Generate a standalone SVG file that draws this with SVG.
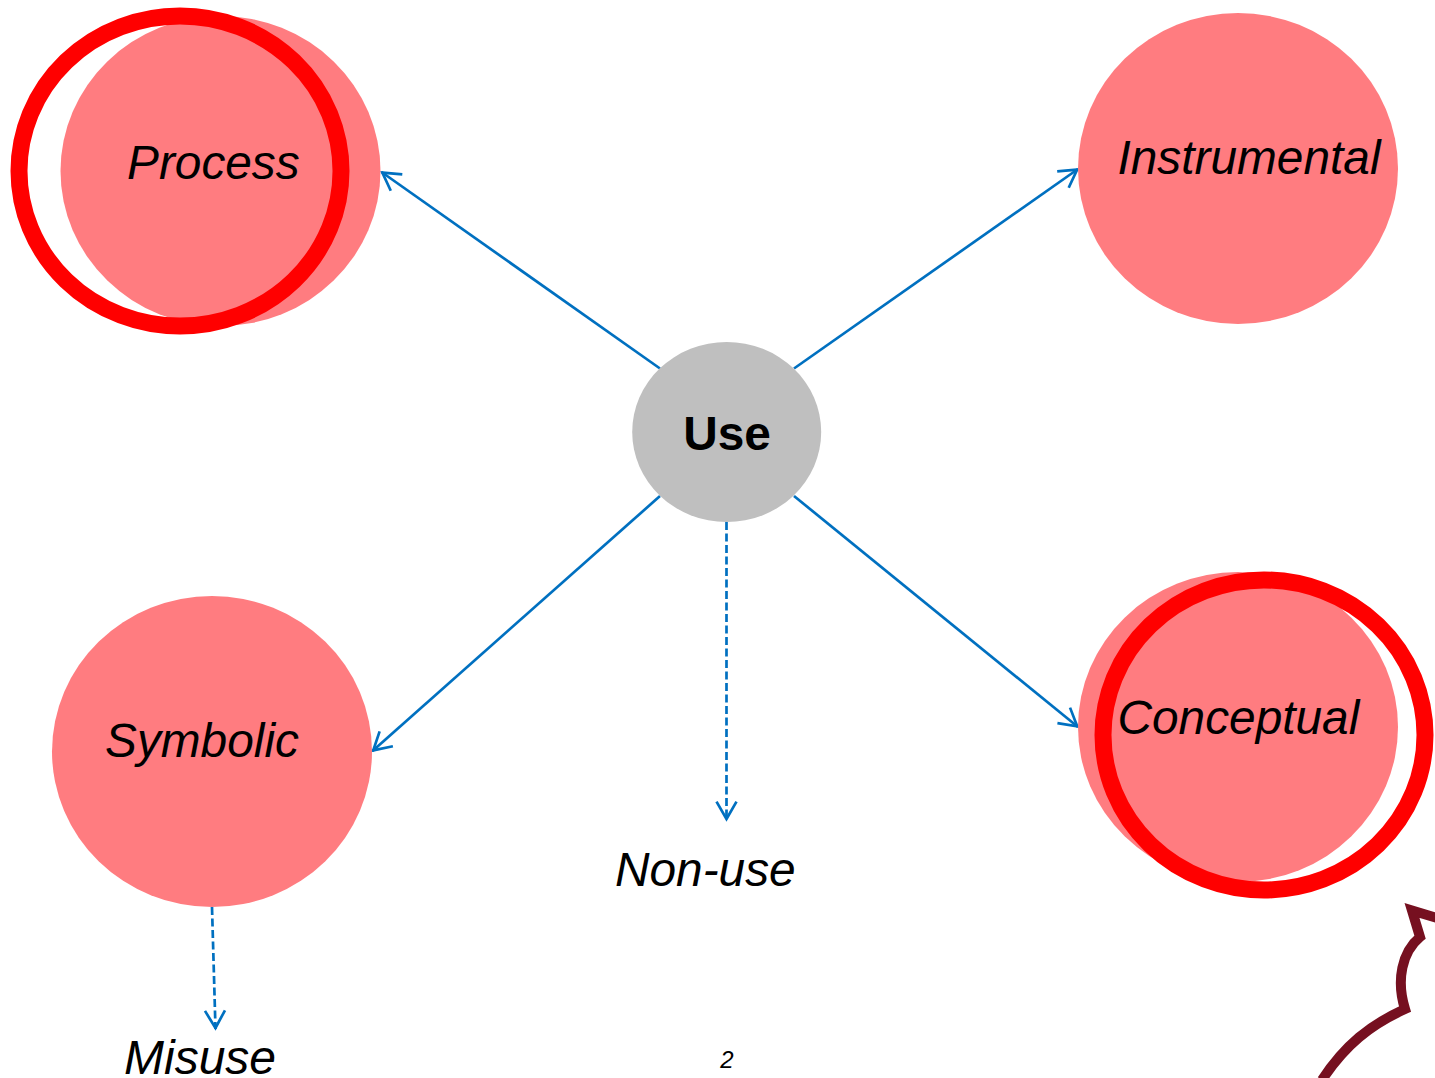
<svg xmlns="http://www.w3.org/2000/svg" width="1435" height="1078" viewBox="0 0 1435 1078">
<defs><marker id="a" markerUnits="userSpaceOnUse" markerWidth="26" markerHeight="26" refX="21" refY="13" orient="auto"><path d="M2.600 3 L20 13 L2.600 23" fill="none" stroke="#0070c0" stroke-width="2.700"/></marker></defs>
<style>
.p{fill:#ff7c80}
.r{fill:none;stroke:#ff0000;stroke-width:17}
.t{font-family:"Liberation Sans",Arial,sans-serif;font-style:italic;font-size:47.800px;fill:#000}
.c{stroke:#0070c0;stroke-width:2.700;fill:none;marker-end:url(#a)}
.d{stroke-dasharray:8 3.500}
</style>
<rect width="1435" height="1078" fill="#fff"/>
<g id="connectors">
<line class="c" x1="660" y1="368.500" x2="381.500" y2="172"/>
<line class="c" x1="794" y1="368.500" x2="1078" y2="169"/>
<line class="c" x1="660" y1="496" x2="372.500" y2="751"/>
<line class="c" x1="794" y1="496" x2="1078" y2="727"/>
<line class="c d" x1="726.500" y1="522" x2="726.500" y2="820"/>
<line class="c d" x1="212" y1="907" x2="215.500" y2="1029"/>
</g>
<g id="process"><ellipse class="p" cx="220.500" cy="171" rx="160" ry="155"/><ellipse class="r" cx="180" cy="171" rx="161" ry="155"/><text class="t" x="127" y="179">Process</text></g>
<g id="instrumental"><ellipse class="p" cx="1238" cy="168.500" rx="160" ry="155.500"/><text class="t" x="1117.500" y="174">Instrumental</text></g>
<g id="use"><ellipse cx="726.700" cy="432" rx="94.500" ry="90" fill="#bfbfbf"/><text x="727" y="450" text-anchor="middle" font-family="Liberation Sans,Arial,sans-serif" font-weight="700" font-size="47.800">Use</text></g>
<g id="symbolic"><ellipse class="p" cx="212" cy="751.500" rx="160" ry="155.500"/><text class="t" x="105" y="757">Symbolic</text></g>
<g id="conceptual"><ellipse class="p" cx="1238" cy="727" rx="160" ry="155"/><ellipse class="r" cx="1264" cy="735" rx="161" ry="155"/><text class="t" x="1117.500" y="734">Conceptual</text></g>
<g id="non-use"><text class="t" x="615" y="886">Non-use</text></g>
<g id="misuse"><text class="t" x="124" y="1074" style="font-size:48px">Misuse</text></g>
<text x="727" y="1068" text-anchor="middle" font-family="Liberation Sans,Arial,sans-serif" font-style="italic" font-size="24">2</text>
<path d="M1437 918 L1412 910.500 L1420 937 C1402 952 1396 980 1405 1009 C1370 1025 1345 1045 1322 1080" fill="none" stroke="#761020" stroke-width="10" stroke-miterlimit="8"/>
</svg>
